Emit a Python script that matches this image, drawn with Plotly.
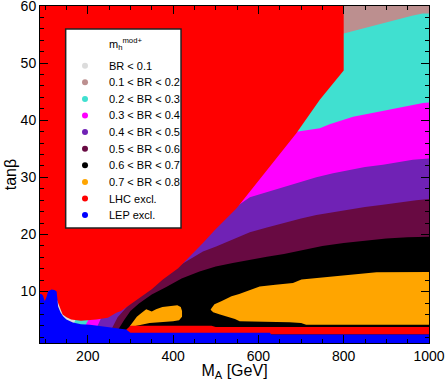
import plotly.graph_objects as go

# upper edge (tan beta) of every BR band versus M_A [GeV]
ma_brown = [80, 200, 400, 790, 800, 1000]
tb_brown = [1, 2, 20, 61, 61, 61]

ma_cyan = [80, 150, 165, 180, 300, 500, 700, 790, 800, 820, 845, 875, 900, 930, 960, 985, 1000]
tb_cyan = [2, 3, 4.0, 6.5, 15, 30, 48, 55, 55.2, 55.6, 56.1, 56.6, 57.2, 57.8, 58.3, 58.7, 58.7]

ma_magenta = [80, 180, 190, 205, 230, 300, 450, 600, 689, 744, 767, 822, 861, 900, 939, 986, 1000]
tb_magenta = [2, 3.2, 3.5, 5.5, 7.5, 13, 22, 33, 38.0, 38.6, 39.3, 40.6, 41.2, 41.8, 42.4, 43.0, 43.1]

ma_purple = [80, 220, 235, 300, 400, 500, 549, 580, 620, 658, 700, 736, 775, 814, 850, 892, 930, 962, 1000]
tb_purple = [1.5, 3.5, 6, 10, 16, 23, 24.9, 26.5, 27.4, 28.2, 29.1, 30.0, 30.7, 31.3, 31.8, 32.2, 32.7, 33.1, 33.3]

ma_maroon = [80, 255, 270, 300, 350, 390, 416, 470, 501, 540, 580, 620, 658, 700, 736, 775, 814, 850, 892, 930, 970, 1000]
tb_maroon = [1.5, 3.3, 5.5, 8.0, 10.8, 13.3, 14.6, 17.0, 17.9, 19.1, 20.4, 21.2, 22.0, 22.8, 23.4, 23.9, 24.3, 24.8, 25.2, 25.6, 26.0, 26.2]

ma_black = [80, 270, 285, 300, 320, 350, 384, 420, 462, 500, 540, 580, 620, 660, 700, 750, 800, 850, 900, 950, 1000]
tb_black = [1.5, 3.2, 5.0, 6.6, 7.9, 9.5, 10.8, 12.3, 13.5, 14.4, 15.0, 15.6, 16.1, 16.6, 17.2, 18.0, 18.5, 18.9, 19.3, 19.5, 19.6]

# two islands with 0.7 < BR < 0.8
ma_orange = [298, 305, 315, 325, 337, 350, 360, 375, 395, 410, 418, 421, 421, 414, 400, 370, 345, 320, 300, None,
             490, 497, 513, 525, 537, 555, 572, 590, 603, 640, 681, 701, 740, 775, 830, 877, 1000,
             1000, 712, 700, 673, 600, 556, 545, 530, 510, 494, 488]
tb_orange = [3.9, 4.6, 5.6, 6.2, 6.9, 6.5, 6.9, 7.3, 7.4, 7.6, 7.3, 6.6, 5.6, 5.0, 4.8, 4.7, 4.5, 4.1, 3.8, None,
             7.1, 7.8, 8.3, 8.8, 9.2, 9.6, 10.05, 10.5, 10.9, 11.2, 11.5, 12.1, 12.4, 12.7, 13.0, 13.4, 13.45,
             4.2, 4.2, 4.5, 4.65, 4.7, 4.8, 5.2, 5.6, 6.0, 6.4, 6.8]

# LHC exclusion: big wedge + low tan beta strip
ma_lhc = [80, 800, 800, 763, 744, 689, 627, 549, 498, 470, 412, 376, 350, 320, 291, 278, 267, 247, 220, 184,
          161, 150, 141, 134, 128, 120, 80, None, 290, 300, 490, 500, 1000, 1000, 290]
tb_lhc = [61, 61, 48.7, 45.3, 43.6, 37.7, 31.9, 24.6, 20.8, 18.5, 14.1, 12.1, 10.4, 8.8, 7.4, 6.6, 6.3, 5.4, 5.1, 4.9,
          5.1, 5.5, 6.0, 7.2, 8.5, 6, 6, None, 3.3, 4.0, 4.0, 3.8, 3.8, 2.5, 2.5]

# LEP exclusion
ma_lep = [80, 80, 91, 95, 99, 103, 107, 115, 122, 127, 130.5, 136, 142, 150, 165, 184, 205, 230, 259, 290, 300, 627, 630, 1000, 1000]
tb_lep = [0, 9.5, 9.6, 9.3, 8.3, 9.0, 10.05, 10.35, 10.3, 10.0, 7.4, 6.4, 5.7, 5.1, 4.6, 4.3, 4.2, 3.9, 3.65, 3.35, 2.8, 2.8, 2.5, 2.5, 0]

labels = ['BR < 0.1', '0.1 < BR < 0.2', '0.2 < BR < 0.3', '0.3 < BR < 0.4', '0.4 < BR < 0.5',
          '0.5 < BR < 0.6', '0.6 < BR < 0.7', '0.7 < BR < 0.8', 'LHC excl.', 'LEP excl.']
colors = ['#dcdcdc', '#bc8f8f', '#40e0d0', '#ff00ff', '#7022b5',
          '#680a42', '#000000', '#ffa500', '#ff0000', '#0000ff']

fig = go.Figure()

bands = [(ma_brown, tb_brown), (ma_cyan, tb_cyan), (ma_magenta, tb_magenta),
         (ma_purple, tb_purple), (ma_maroon, tb_maroon), (ma_black, tb_black)]
for (x, y), c in zip(bands, colors[1:7]):
    fig.add_trace(go.Scatter(x=x, y=y, mode='lines', fill='tozeroy', fillcolor=c,
                             line=dict(width=0, color=c), showlegend=False, hoverinfo='skip'))

for x, y, c in [(ma_orange, tb_orange, colors[7]), (ma_lhc, tb_lhc, colors[8]), (ma_lep, tb_lep, colors[9])]:
    fig.add_trace(go.Scatter(x=x, y=y, mode='lines', fill='toself', fillcolor=c,
                             line=dict(width=0, color=c), showlegend=False, hoverinfo='skip'))

# hand-made legend box (plotly's own legend rows are too tall)
fig.add_shape(type='rect', xref='paper', yref='paper', x0=0.066, x1=0.3625, y0=0.341, y1=0.932,
              fillcolor='white', line=dict(color='#222222', width=1.5), layer='above')
fig.add_annotation(xref='paper', yref='paper', x=0.1715, y=0.888, xanchor='left', yanchor='middle',
                   text='m<sub>h</sub><sup>mod+</sup>', showarrow=False, font=dict(size=11))
for i, (name, c) in enumerate(zip(labels, colors)):
    yy = (343 - (65.7 + 16.6 * i)) / 337
    fig.add_shape(type='circle', xref='paper', yref='paper', xsizemode='pixel', ysizemode='pixel',
                  xanchor=0.1157, yanchor=yy, x0=-3, x1=3, y0=-3, y1=3,
                  fillcolor=c, line=dict(width=0), layer='above')
    fig.add_annotation(xref='paper', yref='paper', x=0.1715, y=yy, xanchor='left', yanchor='middle',
                       text=name, showarrow=False, font=dict(size=11))

axis_style = dict(showline=True, linecolor='black', linewidth=1, mirror='allticks',
                  ticks='inside', ticklen=8, tickcolor='black', showgrid=False, zeroline=False,
                  automargin=False, ticklabeloverflow='allow', tickfont=dict(size=14, color='black'))

fig.update_layout(
    width=445, height=381,
    margin=dict(l=40, r=16, t=6, b=38),
    paper_bgcolor='white', plot_bgcolor=colors[0],
    font=dict(family='Liberation Sans', color='black'),
    showlegend=False,
    xaxis=dict(range=[88, 1000], tick0=0, dtick=200,
               minor=dict(dtick=50, tick0=0, ticks='inside', ticklen=4, tickcolor='black'),
               title=dict(text='M<sub>A</sub> [GeV]', font=dict(size=16), standoff=0), **axis_style),
    yaxis=dict(range=[1, 60], tick0=0, dtick=10,
               minor=dict(dtick=2, tick0=0, ticks='inside', ticklen=4, tickcolor='black'),
               title=dict(text='tanβ', font=dict(size=16), standoff=0), **axis_style),
)

fig.write_html("out.html", config={'displayModeBar': False},
               post_script="document.body.style.margin='0';")
